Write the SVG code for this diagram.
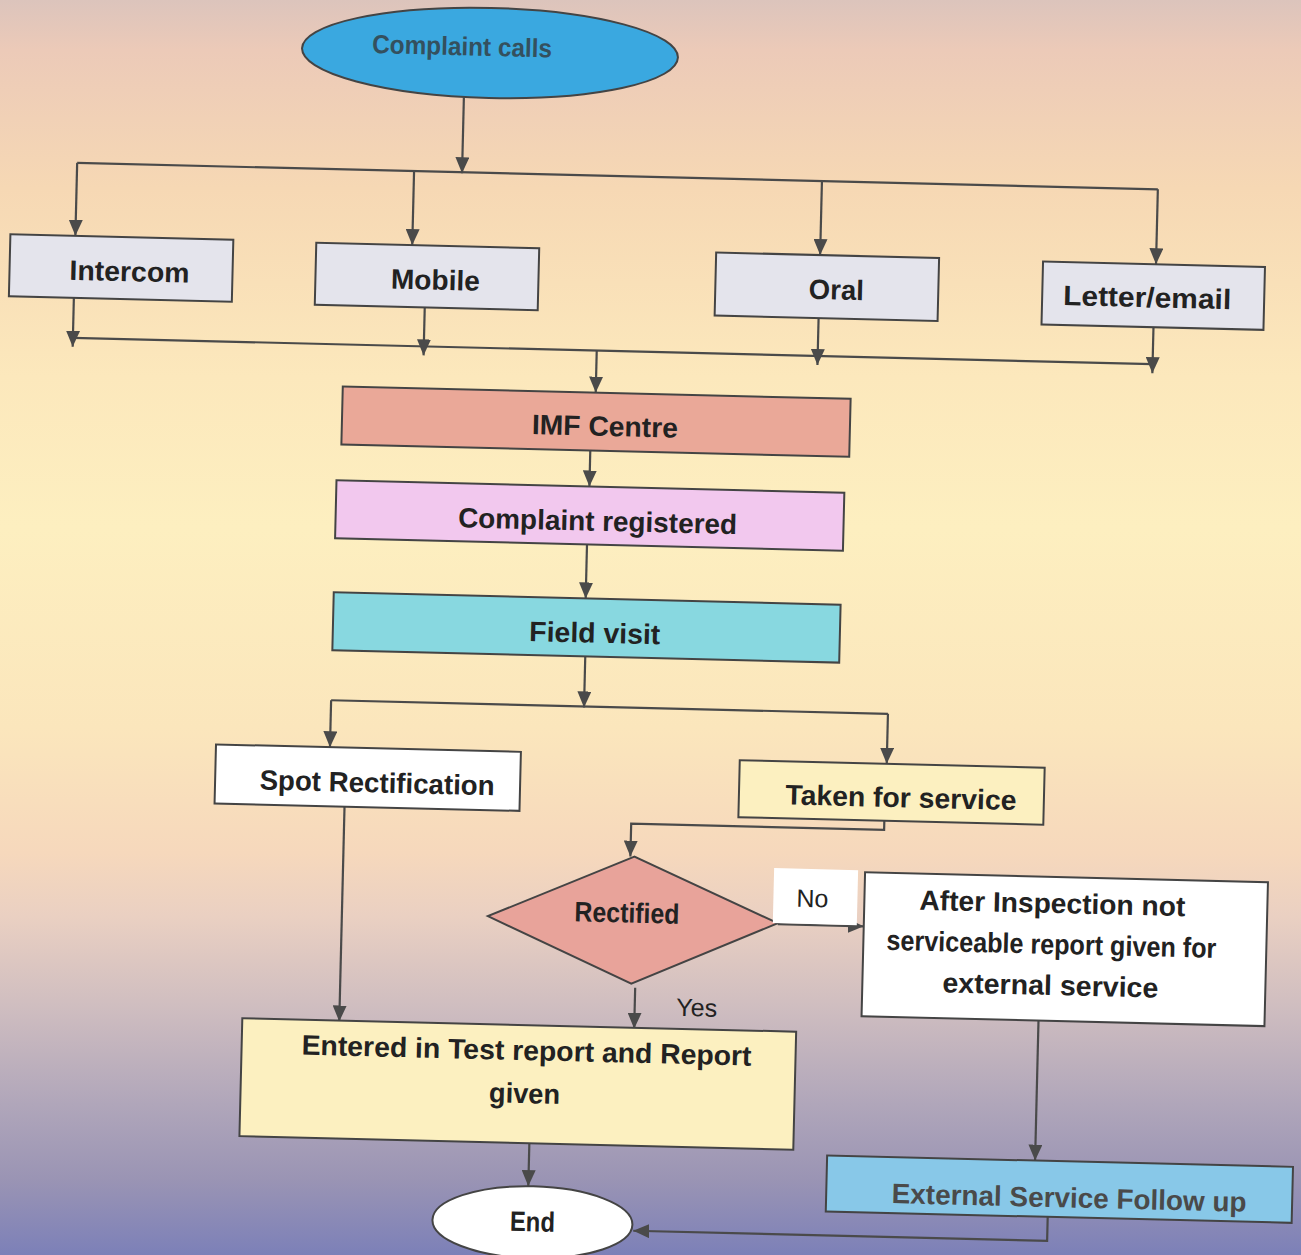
<svg xmlns="http://www.w3.org/2000/svg" width="1301" height="1255" viewBox="0 0 1301 1255">
<defs>
<linearGradient id="bg" x1="0" y1="0" x2="0" y2="1">
<stop offset="0" stop-color="#dcc4bc"/>
<stop offset="0.04" stop-color="#eccab8"/>
<stop offset="0.15" stop-color="#f6d8b4"/>
<stop offset="0.3" stop-color="#fce8bc"/>
<stop offset="0.42" stop-color="#fdefc0"/>
<stop offset="0.58" stop-color="#fbe6bc"/>
<stop offset="0.68" stop-color="#f6d8bc"/>
<stop offset="0.73" stop-color="#ead0c2"/>
<stop offset="0.8" stop-color="#d0bec0"/>
<stop offset="0.88" stop-color="#b0a6ba"/>
<stop offset="0.94" stop-color="#9a94b4"/>
<stop offset="1" stop-color="#7c80b8"/>
</linearGradient>
<marker id="ah" markerUnits="userSpaceOnUse" markerWidth="16" markerHeight="14" refX="16" refY="7" orient="auto">
<path d="M0,0 L16,7 L0,14 z" fill="#4a4a4a"/>
</marker>
<style>
.box{stroke:#444;stroke-width:2}
.t{font-family:"Liberation Sans",Arial,sans-serif;font-weight:bold;font-size:28px;fill:#222;text-anchor:middle}
.tr{font-family:"Liberation Sans",Arial,sans-serif;font-size:25px;fill:#222;text-anchor:middle}
.c line,.c polyline{stroke:#4a4a4a;stroke-width:2.2;fill:none}
.a{marker-end:url(#ah)}
</style>
</defs>
<rect x="0" y="0" width="1301" height="1255" fill="url(#bg)"/>
<g transform="rotate(1.4 650 627)">
<g class="c" id="connectors">
<line class="a" x1="451" y1="102" x2="451" y2="178"/>
<line x1="66" y1="177" x2="1147" y2="177"/>
<line class="a" x1="66" y1="177" x2="66" y2="250"/>
<line class="a" x1="403" y1="177" x2="403" y2="251"/>
<line class="a" x1="811" y1="177" x2="811" y2="251"/>
<line class="a" x1="1147" y1="177" x2="1147" y2="252"/>
<line x1="66" y1="352" x2="1146" y2="352"/>
<line class="a" x1="66" y1="312" x2="66" y2="361"/>
<line class="a" x1="417" y1="313" x2="417" y2="361"/>
<line class="a" x1="811" y1="314" x2="811" y2="361"/>
<line class="a" x1="1146" y1="315" x2="1146" y2="361"/>
<line class="a" x1="590" y1="352" x2="590" y2="394"/>
<line class="a" x1="586" y1="452" x2="586" y2="488"/>
<line class="a" x1="585" y1="546" x2="585" y2="600"/>
<line class="a" x1="586" y1="658" x2="586" y2="709"/>
<line x1="333" y1="708" x2="890" y2="708"/>
<line class="a" x1="333" y1="708" x2="333" y2="755"/>
<line class="a" x1="890" y1="708" x2="890" y2="758"/>
<polyline class="a" points="889,815 889,824 636,824 636,857"/>
<line class="a" x1="644" y1="988" x2="644" y2="1029"/>
<line class="a" x1="785" y1="921" x2="871" y2="921"/>
<line class="a" x1="349" y1="814" x2="349" y2="1029"/>
<line class="a" x1="1048" y1="1011" x2="1048" y2="1151"/>
<line class="a" x1="542" y1="1146" x2="542" y2="1189"/>
<polyline class="a" points="1062,1207 1062,1231 648,1231"/>
</g>
<g id="complaint-calls">
<ellipse class="box" cx="476" cy="57" rx="188" ry="45" fill="#3aa8e0"/>
<text class="tr" x="448" y="60" style="fill:#34505e;font-size:26px;font-weight:bold" textLength="180" lengthAdjust="spacingAndGlyphs">Complaint calls</text>
</g>
<g id="intercom">
<rect class="box" x="1" y="250" width="223" height="62" fill="#e4e4ec"/>
<text class="t" x="121" y="294" textLength="120" lengthAdjust="spacingAndGlyphs">Intercom</text>
</g>
<g id="mobile">
<rect class="box" x="307" y="251" width="223" height="62" fill="#e4e4ec"/>
<text class="t" x="427" y="295" textLength="89" lengthAdjust="spacingAndGlyphs">Mobile</text>
</g>
<g id="oral">
<rect class="box" x="707" y="251" width="223" height="63" fill="#e4e4ec"/>
<text class="t" x="828" y="295" textLength="55" lengthAdjust="spacingAndGlyphs">Oral</text>
</g>
<g id="letter-email">
<rect class="box" x="1034" y="252" width="222" height="63" fill="#e4e4ec"/>
<text class="t" x="1139" y="295" textLength="168" lengthAdjust="spacingAndGlyphs">Letter/email</text>
</g>
<g id="imf-centre">
<rect class="box" x="337" y="394" width="508" height="58" fill="#eaa898"/>
<text class="t" x="600" y="437" textLength="146" lengthAdjust="spacingAndGlyphs">IMF Centre</text>
</g>
<g id="complaint-registered">
<rect class="box" x="333" y="488" width="508" height="58" fill="#f2c8ee"/>
<text class="t" x="595" y="532" textLength="279" lengthAdjust="spacingAndGlyphs">Complaint registered</text>
</g>
<g id="field-visit">
<rect class="box" x="333" y="600" width="507" height="58" fill="#88d8e0"/>
<text class="t" x="595" y="644" textLength="131" lengthAdjust="spacingAndGlyphs">Field visit</text>
</g>
<g id="spot-rectification">
<rect class="box" x="219" y="755" width="305" height="59" fill="#ffffff"/>
<text class="t" x="381" y="799" textLength="235" lengthAdjust="spacingAndGlyphs">Spot Rectification</text>
</g>
<g id="taken-for-service">
<rect class="box" x="743" y="758" width="305" height="57" fill="#fcf0c0"/>
<text class="t" x="905" y="801" textLength="231" lengthAdjust="spacingAndGlyphs">Taken for service</text>
</g>
<g id="rectified">
<polygon class="box" points="640,857 495,920 640,984 785,920" fill="#e8a39a"/>
<text class="t" x="634" y="923" textLength="105" lengthAdjust="spacingAndGlyphs">Rectified</text>
</g>
<g id="label-no">
<rect x="780" y="865" width="84" height="55" fill="#ffffff"/>
<text class="tr" x="819" y="903">No</text>
</g>
<g id="label-yes">
<text class="tr" x="706" y="1015">Yes</text>
</g>
<g id="after-inspection">
<rect class="box" x="871" y="867" width="403" height="144" fill="#ffffff"/>
<text class="t" x="1059" y="903" textLength="266" lengthAdjust="spacingAndGlyphs">After Inspection not</text>
<text class="t" x="1059" y="944" textLength="330" lengthAdjust="spacingAndGlyphs">serviceable report given for</text>
<text class="t" x="1059" y="985" textLength="216" lengthAdjust="spacingAndGlyphs">external service</text>
</g>
<g id="entered-test-report">
<rect class="box" x="252" y="1028" width="554" height="118" fill="#fcf0c0"/>
<text class="t" x="537" y="1063" textLength="450" lengthAdjust="spacingAndGlyphs">Entered in Test report and Report</text>
<text class="t" x="536" y="1106" textLength="71" lengthAdjust="spacingAndGlyphs">given</text>
</g>
<g id="external-service">
<rect class="box" x="840" y="1151" width="466" height="56" fill="#88c8e8"/>
<text class="t" x="1083" y="1197" textLength="355" lengthAdjust="spacingAndGlyphs" style="fill:#4a4a4a">External Service Follow up</text>
</g>
<g id="end">
<ellipse class="box" cx="547" cy="1225" rx="100" ry="36" fill="#ffffff"/>
<text class="t" x="547" y="1234" textLength="45" lengthAdjust="spacingAndGlyphs">End</text>
</g>
</g>
</svg>
